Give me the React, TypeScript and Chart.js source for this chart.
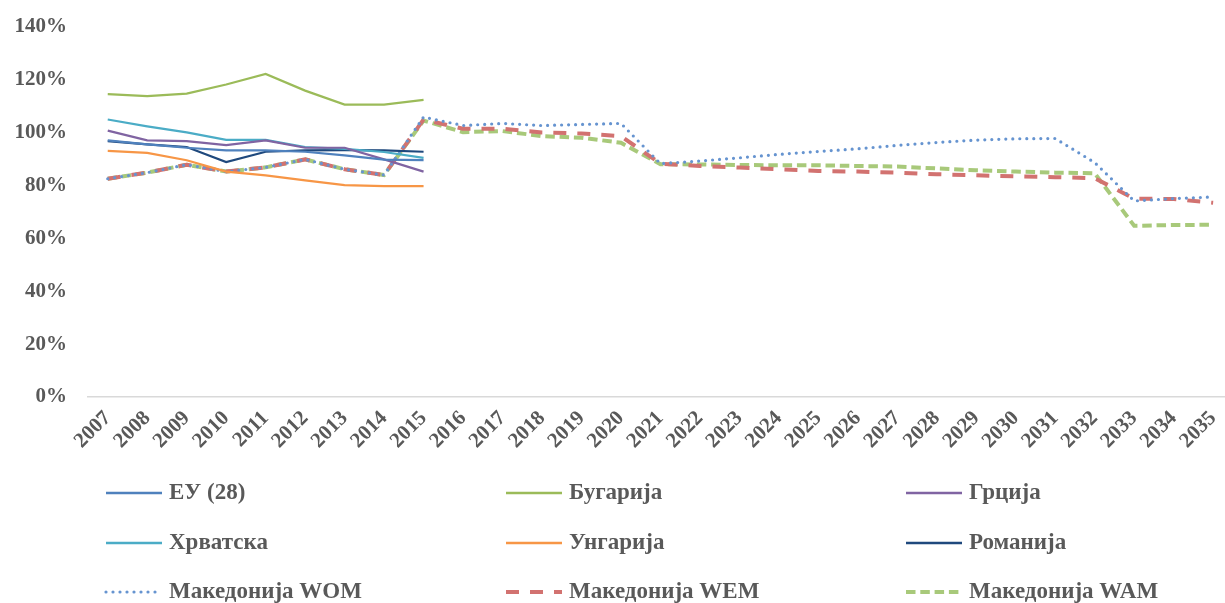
import React, { useEffect, useRef } from "react";
import { Chart, registerables } from "chart.js";

Chart.register(...registerables);

const years = [
  "2007", "2008", "2009", "2010", "2011", "2012", "2013", "2014", "2015", "2016",
  "2017", "2018", "2019", "2020", "2021", "2022", "2023", "2024", "2025", "2026",
  "2027", "2028", "2029", "2030", "2031", "2032", "2033", "2034", "2035",
];

const eu28 = [97.0, 95.5, 94.2, 93.2, 93.2, 92.7, 91.3, 89.7, 89.5];
const bulgaria = [114.5, 113.7, 114.7, 118.1, 122.1, 115.8, 110.5, 110.5, 112.3];
const greece = [100.7, 97.0, 96.7, 95.2, 97.0, 94.2, 94.2, 89.8, 85.2];
const croatia = [104.9, 102.3, 100.0, 97.2, 97.2, 94.5, 93.8, 92.6, 90.4];
const hungary = [93.0, 92.3, 89.5, 85.2, 83.8, 81.9, 80.1, 79.7, 79.7];
const romania = [96.7, 95.5, 94.5, 88.8, 92.7, 93.2, 93.3, 93.2, 92.7];

const mkWOM = [
  82.5, 84.8, 87.8, 85.2, 86.8, 89.8, 86.1, 83.9, 105.8, 102.6,
  103.4, 102.6, 103.0, 103.4, 88.2, 89.2, 90.4, 91.7, 92.8, 93.8,
  95.1, 96.2, 97.1, 97.6, 97.7, 88.6, 74.1, 75.0, 75.6,
];
const mkWEM = [
  82.5, 84.8, 87.8, 85.2, 86.8, 89.8, 86.1, 83.9, 104.9, 101.4,
  101.4, 100.0, 99.6, 98.6, 88.2, 87.3, 86.7, 86.1, 85.4, 85.2,
  84.8, 84.2, 83.8, 83.4, 83.1, 82.7, 75.0, 74.8, 73.4,
];
const mkWAM = [
  82.5, 84.8, 87.8, 85.2, 86.8, 89.8, 86.1, 83.9, 104.5, 100.1,
  100.5, 98.6, 98.0, 96.1, 88.0, 87.9, 87.7, 87.6, 87.6, 87.3,
  87.1, 86.4, 85.7, 85.2, 84.8, 84.6, 64.7, 65.0, 65.1,
];

const FONT = '"Liberation Serif", "Times New Roman", serif';
const TEXT_COLOR = "#595959";
const CANVAS_SHIFT = 7;
const LEGEND_COL_X = [106, 506, 906];
const LEGEND_ROW_Y = [493 + CANVAS_SHIFT, 543 + CANVAS_SHIFT, 592 + CANVAS_SHIFT];

const legendPlugin = {
  id: "gridLegend",
  afterDraw(chart: any) {
    const ctx = chart.ctx;
    chart.data.datasets.forEach((ds: any, i: number) => {
      const col = i % 3;
      const row = Math.floor(i / 3);
      const x0 = LEGEND_COL_X[col];
      const y = LEGEND_ROW_Y[row];
      ctx.save();
      ctx.strokeStyle = ds.borderColor;
      ctx.lineWidth = ds.legendWidth || ds.borderWidth;
      ctx.setLineDash(ds.borderDash || []);
      ctx.lineCap = ds.borderCapStyle || "butt";
      ctx.beginPath();
      ctx.moveTo(x0, y);
      ctx.lineTo(x0 + 56, y);
      ctx.stroke();
      ctx.setLineDash([]);
      ctx.fillStyle = TEXT_COLOR;
      ctx.font = `bold 23px ${FONT}`;
      ctx.textBaseline = "middle";
      ctx.textAlign = "left";
      ctx.fillText(ds.label, x0 + 63, y);
      ctx.restore();
    });
  },
};

function solid(label: string, data: number[], color: string) {
  return {
    label,
    data,
    borderColor: color,
    backgroundColor: color,
    borderWidth: 2.2,
    legendWidth: 2.5,
    pointRadius: 0,
    tension: 0,
    fill: false,
  };
}

export default function App() {
  const canvasRef = useRef<HTMLCanvasElement | null>(null);

  useEffect(() => {
    document.body.style.margin = "0";
    const canvas = canvasRef.current;
    if (!canvas) return;
    const chart = new Chart(canvas, {
      type: "line",
      data: {
        labels: years,
        datasets: [
          solid("ЕУ (28)", eu28, "#4F81BD"),
          solid("Бугарија", bulgaria, "#9BBB59"),
          solid("Грција", greece, "#8064A2"),
          solid("Хрватска", croatia, "#4BACC6"),
          solid("Унгарија", hungary, "#F79646"),
          solid("Романија", romania, "#1F497D"),
          {
            label: "Македонија WOM",
            data: mkWOM,
            borderColor: "#6694D0",
            backgroundColor: "#6694D0",
            borderWidth: 3.2,
            borderDash: [0, 7],
            borderCapStyle: "round",
            pointRadius: 0,
            tension: 0,
            fill: false,
          } as any,
          {
            label: "Македонија WEM",
            data: mkWEM,
            borderColor: "#D27270",
            backgroundColor: "#D27270",
            borderWidth: 4,
            borderDash: [13, 11],
            pointRadius: 0,
            tension: 0,
            fill: false,
          } as any,
          {
            label: "Македонија WAM",
            data: mkWAM,
            borderColor: "#A8C97A",
            backgroundColor: "#A8C97A",
            borderWidth: 4,
            borderDash: [9.5, 4.8],
            pointRadius: 0,
            tension: 0,
            fill: false,
          } as any,
        ],
      },
      options: {
        responsive: false,
        animation: false,
        devicePixelRatio: 1,
        layout: { padding: { top: 3, right: 3, bottom: 133, left: 0 } },
        plugins: {
          legend: { display: false },
          tooltip: { enabled: false },
        },
        scales: {
          x: {
            type: "category",
            offset: true,
            grid: { display: false, drawTicks: false },
            border: { display: true, color: "#D9D9D9", width: 1.5 },
            ticks: {
              autoSkip: false,
              maxRotation: 45,
              minRotation: 45,
              padding: 9,
              color: TEXT_COLOR,
              font: { family: FONT, size: 21, weight: "bold" },
            },
            afterFit: (scale: any) => {
              scale.height = 73;
            },
          },
          y: {
            min: 0,
            max: 140,
            grid: { display: false, drawTicks: false },
            border: { display: false },
            ticks: {
              stepSize: 20,
              padding: 21,
              color: TEXT_COLOR,
              font: { family: FONT, size: 21, weight: "bold" },
              callback: (v: any) => `${v}%`,
            },
            afterFit: (scale: any) => {
              scale.width = 88;
            },
          },
        },
      } as any,
      plugins: [legendPlugin],
    });
    return () => chart.destroy();
  }, []);

  return (
    <div style={{ width: 1225, height: 603, overflow: "hidden", position: "relative" }}>
      <canvas
        ref={canvasRef}
        width={1240}
        height={603 + CANVAS_SHIFT}
        style={{ width: 1240, height: 603 + CANVAS_SHIFT, display: "block", marginTop: -CANVAS_SHIFT }}
      />
    </div>
  );
}
